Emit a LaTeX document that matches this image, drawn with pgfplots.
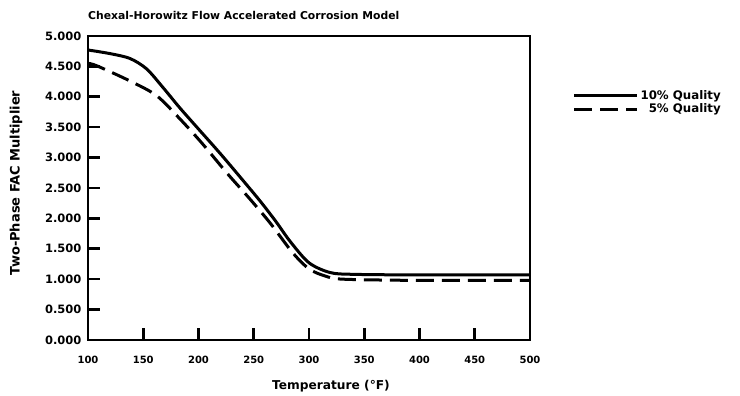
\documentclass[border=0pt]{standalone}
\usepackage{pgfplots}
\pgfplotsset{compat=1.18}
\usepackage{fontspec}
\setmainfont{DejaVu Sans}
\begin{document}
\begin{tikzpicture}[font=\bfseries]
\begin{axis}[
  scale only axis,
  width=442pt, height=304pt,
  xmin=100, xmax=500, ymin=0, ymax=5,
  xtick={100,150,...,500},
  ytick={0,0.5,...,5},
  tick align=inside,
  xtick pos=bottom, ytick pos=left,
  major tick length=12pt,
  axis line style={line width=2.6pt},
  tick style={line width=2.6pt, black},
  /pgf/number format/assume math mode=true,
  yticklabel style={/pgf/number format/fixed, /pgf/number format/fixed zerofill, /pgf/number format/precision=3, font=\bfseries\fontsize{11.5}{13}\selectfont, xshift=-3pt},
  xticklabel style={/pgf/number format/fixed, /pgf/number format/precision=0, /pgf/number format/1000 sep={}, font=\bfseries\fontsize{10}{12}\selectfont, yshift=-13pt},
  title={Chexal-Horowitz Flow Accelerated Corrosion Model},
  title style={at={(0,1)}, anchor=south west, font=\bfseries\fontsize{10.8}{12}\selectfont, yshift=10pt, inner sep=0pt},
  xlabel={Temperature (°F)},
  ylabel={Two-Phase FAC Multiplier},
  xlabel style={font=\bfseries\fontsize{12.2}{14}\selectfont, yshift=-9pt, xshift=22pt},
  ylabel style={font=\bfseries\fontsize{13}{15}\selectfont, yshift=16pt, xshift=5pt},
  legend style={at={(1.09,0.835)}, anchor=north west, draw=none, fill=none, font=\bfseries\fontsize{11.8}{13}\selectfont, row sep=-1pt},
  legend cell align=right,
  legend image code/.code={\draw[#1] (0cm,0cm) -- (2.2cm,0cm);},
]
\addplot[black, line width=3pt, smooth, tension=0.5] coordinates {
(100,4.77) (120,4.71) (138,4.63) (153,4.46) (168,4.15) (183,3.82) (200,3.47) (220,3.06) (240,2.63) (256,2.28) (270,1.95) (283,1.62) (300,1.27) (319,1.11) (340,1.08) (400,1.07) (500,1.07)};
\addlegendentry{10\% Quality}
\addplot[black, line width=3pt, dash pattern=on 18pt off 8pt, smooth, tension=0.5] coordinates {
(100,4.55) (108,4.51) (138,4.26) (162,4.02) (183,3.64) (203,3.24) (226,2.74) (246,2.33) (265,1.92) (285,1.44) (300,1.17) (315,1.05) (331,1.00) (400,0.98) (500,0.98)};
\addlegendentry{5\% Quality}
\end{axis}
\path (current axis.south west) ++(-88pt,-54pt) rectangle ++(740pt,394pt);
\end{tikzpicture}
\end{document}
